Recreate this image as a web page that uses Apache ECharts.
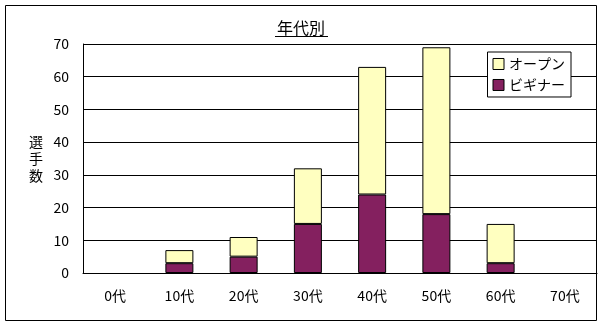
<!DOCTYPE html>
<html><head><meta charset="utf-8">
<script src="https://cdn.jsdelivr.net/npm/echarts@6/dist/echarts.min.js"></script>
<style>html,body{margin:0;padding:0;background:#fff}#c{width:602px;height:326px}</style>
</head><body><div id="c"></div>
<script>
const categories = ['0代','10代','20代','30代','40代','50代','60代','70代'];
const beginner = [0,3,5,15,24,18,3,0];
const open = [0,4,6,17,39,51,12,0];
const yTicks = [0,10,20,30,40,50,60,70];
const FONT = '"Noto Sans CJK JP", sans-serif';
const noZero = arr => arr.map(v => v === 0 ? '-' : v);
const chart = echarts.init(document.getElementById('c'), null, {renderer:'canvas'});
chart.setOption({
  animation:false,
  backgroundColor:'#fff',
  title:{text:'年代別', left:'center', top:15, textStyle:{fontFamily:FONT,fontSize:16,fontWeight:'normal',color:'#000'}},
  grid:{left:83, right:5, top:44, bottom:53, containLabel:false},
  legend:{
    orient:'vertical', right:31, top:52, itemWidth:11, itemHeight:11, itemGap:7, icon:'rect',
    padding:[5,6,5,5], borderColor:'#000', borderWidth:1, backgroundColor:'#fff',
    textStyle:{fontFamily:FONT,fontSize:14,color:'#000'},
    data:[{name:'オープン',itemStyle:{borderColor:'#000',borderWidth:1}},{name:'ビギナー',itemStyle:{borderColor:'#000',borderWidth:1}}]
  },
  xAxis:{type:'category', data:categories, boundaryGap:true,
    axisLine:{lineStyle:{color:'#000',width:1}},
    axisTick:{inside:true,length:4,lineStyle:{color:'#000'}},
    axisLabel:{fontFamily:FONT,fontSize:14,color:'#000',margin:16}},
  yAxis:{type:'value', min:0, max:70, interval:10,
    name:'選\n手\n数', nameLocation:'middle', nameGap:40, nameRotate:0,
    nameTextStyle:{fontFamily:FONT,fontSize:14,color:'#000',lineHeight:17},
    axisLine:{show:true,lineStyle:{color:'#000'}},
    axisTick:{show:false},
    axisLabel:{fontFamily:FONT,fontSize:14,color:'#000',margin:14,
      formatter:v=>yTicks.includes(v)?String(v):''},
    splitLine:{lineStyle:{color:'#000',width:1}}},
  series:[
    {name:'ビギナー', type:'bar', stack:'s', data:noZero(beginner), barWidth:28,
     itemStyle:{color:'#84205F',borderColor:'#000',borderWidth:1}},
    {name:'オープン', type:'bar', stack:'s', data:noZero(open), barWidth:28,
     itemStyle:{color:'#FFFFC0',borderColor:'#000',borderWidth:1}}
  ],
  graphic:[
    {type:'rect', shape:{x:5.5,y:5.5,width:591,height:315}, style:{fill:null,stroke:'#000',lineWidth:1}, z:-1},
    {type:'line', shape:{x1:275,y1:36.5,x2:328,y2:36.5}, style:{stroke:'#000',lineWidth:1}}
  ]
});
</script></body></html>
